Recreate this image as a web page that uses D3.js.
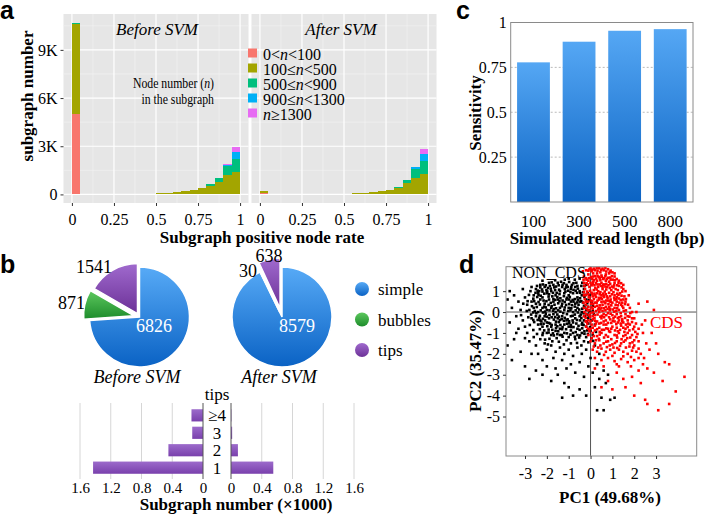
<!DOCTYPE html>
<html lang="en">
<head>
<meta charset="UTF-8" />
<title>Subgraph classification figure</title>
<script src="https://d3js.org/d3.v7.min.js"></script>
<style>
  body { margin: 0; background: #fff; }
  svg { display: block; font-family: "Liberation Serif", "Times New Roman", serif; }
  .plabel { font-family: "Liberation Sans", Arial, sans-serif; font-weight: bold; font-size: 25px; }
  .ttl { font-weight: bold; font-size: 17px; }
</style>
</head>
<body>
<svg width="708" height="514"></svg>
<script>
// ---------- data ----------
// panel a: histogram bins of positive node rate (bin start), counts in thousands
const binStarts = [0, 0.05, 0.1, 0.15, 0.2, 0.25, 0.3, 0.35, 0.4, 0.45,
                   0.5, 0.55, 0.6, 0.65, 0.7, 0.75, 0.8, 0.85, 0.9, 0.95];
const sizeKeys = ["n100", "n500", "n900", "n1300", "nBig"];
const sizeColors = ["#F8766D", "#A3A500", "#00BF7D", "#00B0F6", "#E76BF3"];

const beforeN100  = [5.0, 0.01, 0.01, 0.01, 0.01, 0.01, 0.01, 0.01, 0.01, 0.01, 0.01, 0.01, 0.02, 0.01, 0.01, 0.01, 0.01, 0.02, 0.02, 0.03];
const beforeN500  = [5.6, 0.01, 0.01, 0.01, 0.01, 0.01, 0.02, 0.02, 0.03, 0.04, 0.06, 0.09, 0.12, 0.18, 0.26, 0.37, 0.54, 0.78, 1.17, 1.37];
const beforeN900  = [0.08, 0, 0, 0, 0, 0, 0, 0, 0, 0, 0, 0, 0, 0.01, 0.02, 0.03, 0.07, 0.2, 0.58, 0.8];
const beforeN1300 = [0, 0, 0, 0, 0, 0, 0, 0, 0, 0, 0, 0, 0, 0, 0, 0, 0, 0.01, 0.06, 0.42];
const beforeNBig  = [0, 0, 0, 0, 0, 0, 0, 0, 0, 0, 0, 0, 0, 0, 0, 0, 0, 0, 0.04, 0.35];

const afterN100  = [0.1, 0, 0, 0, 0, 0, 0, 0, 0, 0, 0, 0.005, 0.005, 0.005, 0.005, 0.005, 0.005, 0.01, 0.01, 0.02];
const afterN500  = [0.12, 0, 0, 0, 0, 0, 0, 0, 0.01, 0.02, 0.04, 0.06, 0.09, 0.13, 0.19, 0.27, 0.41, 0.69, 1.03, 1.28];
const afterN900  = [0, 0, 0, 0, 0, 0, 0, 0, 0, 0, 0, 0, 0, 0.01, 0.01, 0.02, 0.04, 0.18, 0.56, 0.79];
const afterN1300 = [0, 0, 0, 0, 0, 0, 0, 0, 0, 0, 0, 0, 0, 0, 0, 0, 0, 0.01, 0.08, 0.42];
const afterNBig  = [0, 0, 0, 0, 0, 0, 0, 0, 0, 0, 0, 0, 0, 0, 0, 0, 0, 0, 0.05, 0.31];

// panel b: subgraph types
const typeNames = ["simple", "bubbles", "tips"];
const beforeTypes = [6826, 871, 1541];
const afterTypes = [8579, 30, 638];
// tips breakdown (x1000)
const tipCats = ["≥4", "3", "2", "1"];
const tipsBefore = [0.15, 0.14, 0.45, 1.43];
const tipsAfter = [0.005, 0.015, 0.09, 0.55];

// panel c: sensitivity by read length
const readLengths = ["100", "300", "500", "800"];
const sensitivity = [0.778, 0.893, 0.954, 0.963];

// panel d: PCA points [PC1, PC2]
const nonCdsPts = [
  [-2.5,1.1],[-2.3,1.3],[-2.1,1.2],[-1.9,1.4],[-1.7,1.3],[-1.5,1.4],[-1.3,1.2],[-1.1,1.3],[-0.9,1.1],[-0.7,1.2],[-0.5,1.0],[-0.3,1.1],
  [-2.6,0.8],[-2.4,0.9],[-2.2,0.7],[-2.0,0.9],[-1.8,1.0],[-1.6,0.8],[-1.4,1.0],[-1.2,0.9],[-1.0,0.8],[-0.8,0.9],[-0.6,0.7],[-0.4,0.8],[-0.2,0.6],
  [-2.7,0.5],[-2.5,0.4],[-2.3,0.6],[-2.1,0.4],[-1.9,0.6],[-1.7,0.5],[-1.5,0.6],[-1.3,0.4],[-1.1,0.6],[-0.9,0.5],[-0.7,0.4],[-0.5,0.5],[-0.3,0.3],
  [-2.8,0.1],[-2.6,0.2],[-2.4,0.0],[-2.2,0.2],[-2.0,0.1],[-1.8,0.2],[-1.6,0.0],[-1.4,0.2],[-1.2,0.1],[-1.0,0.2],[-0.8,0.0],[-0.6,0.2],[-0.4,0.0],[-0.2,0.1],
  [-2.7,-0.3],[-2.5,-0.2],[-2.3,-0.4],[-2.1,-0.2],[-1.9,-0.3],[-1.7,-0.1],[-1.5,-0.3],[-1.3,-0.2],[-1.1,-0.4],[-0.9,-0.2],[-0.7,-0.3],[-0.5,-0.2],[-0.3,-0.4],[-0.1,-0.3],
  [-2.4,-0.6],[-2.2,-0.7],[-2.0,-0.5],[-1.8,-0.7],[-1.6,-0.6],[-1.4,-0.8],[-1.2,-0.6],[-1.0,-0.7],[-0.8,-0.5],[-0.6,-0.8],[-0.4,-0.6],[-0.2,-0.7],
  [-2.0,-1.0],[-1.8,-1.1],[-1.6,-0.9],[-1.4,-1.1],[-1.2,-1.0],[-1.0,-1.2],[-0.8,-1.0],[-0.6,-1.1],[-0.4,-1.0],[-0.2,-1.2],[0.0,-0.9],
  [-2.35,1.0],[-1.95,1.15],[-1.62,1.05],[-1.18,1.1],[-0.85,1.3],[-0.42,1.25],[-2.15,0.55],[-1.75,0.75],[-1.38,0.66],[-0.95,0.72],[-0.55,0.35],
  [-0.15,0.42],[-2.55,0.05],[-2.05,-0.08],[-1.65,0.35],[-1.25,-0.05],[-0.85,0.33],[-0.45,-0.12],[-2.25,-0.45],[-1.85,-0.55],[-1.45,-0.48],
  [-1.05,-0.35],[-0.65,-0.55],[-0.25,-0.2],[-1.75,-0.85],[-1.3,-0.82],[-0.9,-0.88],[-0.5,-0.85],[-0.1,-0.55],[-2.9,0.35],[-3.0,0.7],
  [-2.75,1.0],[-2.45,1.25],[-1.35,1.45],[-0.65,1.4],[0.1,0.3],[0.05,-0.4],[0.15,-0.1],[-0.05,0.8],[-1.55,-1.25],[-1.1,-1.35],[-0.7,-1.3],
  [-0.3,-1.4],[0.1,-1.1],
  [-2.42,1.02],[-2.22,1.08],[-2.02,1.04],[-1.82,1.12],[-1.44,1.07],[-1.02,1.02],[-0.78,1.06],[-0.58,1.12],[-0.34,0.95],[-0.12,0.9],
  [-2.62,0.64],[-2.44,0.72],[-2.28,0.78],[-1.92,0.74],[-1.52,0.72],[-1.22,0.76],[-1.08,0.68],[-0.72,0.62],[-0.48,0.66],[-0.28,0.72],[-0.08,0.58],
  [-2.68,0.28],[-2.46,0.24],[-2.32,0.36],[-2.12,0.26],[-1.92,0.34],[-1.78,0.28],[-1.48,0.42],[-1.32,0.28],[-1.12,0.34],[-0.98,0.38],[-0.72,0.26],
  [-0.62,0.46],[-0.38,0.16],
  [-2.72,-0.12],[-2.48,-0.06],[-2.32,-0.18],[-2.18,-0.02],[-1.88,-0.14],[-1.72,0.06],[-1.52,-0.12],[-1.38,0.02],[-1.08,-0.1],[-0.92,0.08],
  [-0.72,-0.12],[-0.58,-0.02],[-0.32,-0.06],[-0.12,-0.12],
  [-2.58,-0.48],[-2.42,-0.38],[-2.08,-0.4],[-1.92,-0.52],[-1.68,-0.36],[-1.58,-0.46],[-1.22,-0.42],[-0.98,-0.54],[-0.82,-0.4],[-0.48,-0.4],
  [-0.38,-0.52],[-0.18,-0.45],
  [-2.32,-0.82],[-2.12,-0.88],[-1.92,-0.84],[-1.58,-0.76],[-1.48,-0.92],[-1.12,-0.82],[-0.78,-0.72],[-0.68,-0.96],[-0.38,-0.78],[-0.28,-0.92],
  [-0.02,-0.72],
  [-2.18,1.32],[-1.78,1.42],[-1.58,1.22],[-1.22,1.38],[-0.98,1.44],[-0.78,1.38],[-0.38,1.4],
  [-1.88,-1.28],[-1.68,-1.12],[-1.28,-1.18],[-0.92,-1.08],[-0.52,-1.22],[-0.12,-1.05],[-2.2,-1.1],
  [-1.9,0.85],[-1.55,0.92],[-1.28,0.55],[-0.82,0.58],[-2.05,0.22],[-1.58,0.18],[-1.02,0.05],[-0.68,0.08],[-1.78,-0.25],[-1.32,-0.34],
  [-0.82,-0.18],[-1.98,-0.68],[-1.38,-0.62],[-0.9,-0.62],[-1.12,1.18],[-0.62,0.92],[-1.7,0.62],[-2.2,0.98],[-0.42,0.52],[-1.45,-0.22],
  [-2.52,0.92],[-2.38,0.82],[-2.12,0.88],[-1.98,0.98],[-1.72,0.92],[-1.42,0.86],[-1.15,0.98],[-0.92,0.95],[-0.68,1.02],[-0.48,0.92],[-0.22,0.82],
  [-2.58,0.52],[-2.38,0.48],[-2.02,0.52],[-1.82,0.44],[-1.62,0.58],[-1.42,0.52],[-1.18,0.48],[-0.98,0.6],[-0.78,0.5],[-0.58,0.58],[-0.35,0.45],
  [-0.12,0.25],[-2.62,-0.02],[-2.28,0.08],[-2.08,0.02],[-1.88,0.08],[-1.68,0.14],[-1.48,0.08],[-1.18,0.22],[-0.88,0.18],[-0.52,0.12],[-0.28,0.22],
  [-0.05,0.02],[-2.62,-0.38],[-2.35,-0.28],[-2.18,-0.32],[-2.0,-0.22],[-1.62,-0.24],[-1.4,-0.38],[-1.18,-0.28],[-0.98,-0.44],[-0.62,-0.38],
  [-0.42,-0.28],[-0.08,-0.18],[-2.28,-0.58],[-2.15,-0.56],[-1.78,-0.62],[-1.52,-0.68],[-1.28,-0.72],[-1.08,-0.56],[-0.88,-0.72],[-0.55,-0.66],
  [-0.32,-0.62],[-0.15,-0.88],[-2.18,-1.0],[-1.92,-0.98],[-1.72,-1.02],[-1.52,-1.06],[-1.32,-1.1],[-1.08,-1.02],[-0.72,-1.18],[-0.48,-1.12],
  [-0.28,-1.04],[0.05,-1.25],[-2.3,1.18],[-2.05,1.28],[-1.86,1.25],[-1.66,1.18],[-1.46,1.28],[-1.28,1.3],[-1.04,1.2],[-0.88,1.2],[-0.6,1.25],
  [-0.28,1.25],[-2.82,0.82],[-2.88,0.52],[-2.92,0.05],[-2.85,-0.25],[-2.78,-0.62],[-2.62,-0.86],[-2.45,-1.05],[-3.08,0.4],[-3.18,-0.15],
  [-3.0,-1.25],[-2.08,-1.32],[-1.75,-1.4],[-1.45,-1.42],[-1.22,-1.55],[-0.9,-1.5],[-0.62,-1.48],[-0.42,-1.6],[-0.1,-1.45],[0.12,-1.38],
  [-1.95,-1.55],[-1.62,1.52],[-1.18,1.55],[-0.72,1.55],[-0.2,1.3],[0.05,0.5],[0.1,0.05],[0.2,-0.6],[0.25,-0.95],
  [-3.7,1.0],[-3.8,0.6],[-3.5,0.8],[-3.3,0.5],[-3.6,0.2],[-3.2,0.1],[-3.4,-0.2],[-3.1,-0.4],[-3.7,-0.5],[-3.3,-0.8],[-3.0,-0.7],[-2.9,-1.0],
  [-3.5,-1.3],[-3.8,-1.6],[-3.6,-2.3],[-3.2,-1.9],[-2.8,-1.4],[-2.6,-1.2],[-2.5,-1.6],[-2.3,-1.3],[-2.1,-1.5],[-2.7,-2.0],[-2.4,-2.0],
  [-2.0,-1.8],[-1.8,-1.6],[-1.6,-1.9],[-1.4,-1.7],[-1.2,-2.0],[-1.0,-1.8],[-0.8,-2.1],[-0.6,-1.7],[-0.4,-2.0],[-0.2,-1.8],[0.0,-2.2],
  [0.2,-1.6],[-1.3,-2.3],[-0.9,-2.5],[-0.5,-2.4],[-0.1,-2.6],[0.3,-2.5],[-1.7,-2.2],[-2.2,-2.3],[-1.1,-2.7],[-0.7,-2.9],[-0.3,-3.1],
  [0.1,-2.9],[0.4,-3.2],
  [-2.8,-3.2],[-2.5,-2.8],[-2.2,-3.0],[-1.8,-3.3],[-1.5,-3.0],[-1.2,-3.4],[-1.0,-3.6],[-1.3,-4.1],[-0.8,-4.0],[-0.5,-3.7],[-0.2,-4.0],
  [0.2,-3.6],[0.5,-4.1],[0.3,-4.7],[0.6,-4.7],[0.9,-4.2],[1.1,-4.1],[0.7,-3.4],[-3.0,-2.6],[-2.0,-2.6],[-1.6,-2.7],[-3.4,-1.0],
  [-2.7,1.2],[-2.2,1.5],[-1.0,1.6],[-0.5,1.6],[-3.1,1.1],[0.4,-2.0],[0.6,-2.8],[0.8,-3.0]
];
const cdsPts = [
  [-0.2,2.0],[0.0,2.1],[0.2,2.0],[0.4,2.1],[0.6,2.0],[0.8,2.05],[1.0,1.9],[-0.3,1.7],[-0.1,1.8],[0.1,1.7],[0.3,1.85],[0.5,1.75],[0.7,1.8],
  [0.9,1.65],[1.1,1.7],[1.3,1.5],[-0.3,1.4],[-0.1,1.5],[0.1,1.35],[0.3,1.5],[0.5,1.4],[0.7,1.5],[0.9,1.35],[1.1,1.4],[1.3,1.25],[1.5,1.1],
  [-0.25,1.1],[-0.05,1.2],[0.15,1.05],[0.35,1.2],[0.55,1.1],[0.75,1.2],[0.95,1.05],[1.15,1.1],[1.35,0.9],
  [-0.3,0.8],[-0.1,0.85],[0.1,0.75],[0.3,0.9],[0.5,0.8],[0.7,0.85],[0.9,0.75],[1.1,0.8],[1.3,0.65],[1.5,0.6],
  [-0.2,0.5],[0.0,0.55],[0.2,0.45],[0.4,0.6],[0.6,0.5],[0.8,0.55],[1.0,0.45],[1.2,0.5],[1.4,0.35],
  [-0.3,0.2],[-0.1,0.25],[0.1,0.15],[0.3,0.3],[0.5,0.2],[0.7,0.25],[0.9,0.15],[1.1,0.2],[1.3,0.1],[1.5,0.2],
  [-0.2,-0.1],[0.0,-0.05],[0.2,-0.15],[0.4,0.0],[0.6,-0.1],[0.8,-0.05],[1.0,-0.15],[1.2,-0.1],[1.4,-0.2],[1.6,-0.1],
  [-0.1,-0.4],[0.1,-0.35],[0.3,-0.45],[0.5,-0.3],[0.7,-0.4],[0.9,-0.35],[1.1,-0.45],[1.3,-0.4],[1.5,-0.5],[1.7,-0.4],
  [0.05,1.95],[0.45,1.9],[0.85,1.85],[0.25,1.6],[0.62,1.62],[1.02,1.55],[-0.18,1.55],[0.42,1.32],[0.82,1.28],[0.22,1.15],
  [0.65,0.98],[1.05,0.95],[-0.15,0.98],[0.38,0.68],[0.78,0.68],[1.18,0.62],[0.12,0.38],[0.55,0.35],[0.95,0.32],[1.45,0.45],
  [0.25,0.05],[0.68,0.08],[1.08,0.02],[-0.05,0.1],[0.45,-0.22],[0.85,-0.25],[1.25,-0.28],[0.35,1.0],[0.72,1.35],[0.15,0.62],
  [-0.1,1.98],[0.15,2.08],[0.32,1.98],[0.55,2.08],[0.72,1.94],[0.92,1.98],
  [-0.22,1.62],[0.02,1.66],[0.16,1.52],[0.38,1.68],[0.58,1.58],[0.8,1.64],[0.98,1.72],[1.2,1.58],[1.4,1.38],
  [-0.28,1.25],[-0.12,1.32],[0.05,1.28],[0.25,1.38],[0.48,1.25],[0.62,1.32],[0.98,1.22],[1.22,1.28],[1.42,1.18],
  [-0.3,0.95],[-0.02,1.02],[0.18,0.88],[0.45,0.95],[0.58,0.88],[0.85,0.92],[1.22,0.88],[1.42,0.78],
  [-0.26,0.62],[-0.05,0.7],[0.25,0.72],[0.48,0.68],[0.62,0.72],[0.92,0.6],[1.08,0.68],[1.28,0.82],[1.55,0.75],
  [-0.22,0.35],[0.02,0.4],[0.28,0.45],[0.42,0.32],[0.68,0.42],[0.82,0.38],[1.15,0.35],[1.32,0.45],[1.58,0.38],
  [-0.28,0.0],[-0.12,0.08],[0.12,-0.02],[0.35,0.12],[0.55,0.05],[0.88,0.08],[1.18,0.05],[1.38,-0.05],[1.62,0.08],
  [-0.22,-0.28],[-0.02,-0.22],[0.18,-0.3],[0.62,-0.25],[1.05,-0.3],[1.45,-0.35],[1.78,-0.22],
  [-0.15,-0.55],[0.05,-0.6],[0.25,-0.55],[0.48,-0.52],[0.72,-0.6],[0.95,-0.52],[1.18,-0.58],[1.38,-0.55],[1.62,-0.6],[1.9,-0.48],
  [-0.05,-0.92],[0.2,-0.88],[0.42,-0.95],[0.62,-0.85],[0.85,-0.92],[1.12,-0.88],[1.35,-0.85],[1.55,-0.95],[1.78,-0.88],[2.05,-0.95],
  [0.05,-1.25],[0.38,-1.28],[0.62,-1.22],[0.95,-1.3],[1.22,-1.22],[1.42,-1.3],[1.68,-1.25],[2.0,-1.35],
  [0.15,-1.65],[0.45,-1.6],[0.75,-1.68],[1.05,-1.7],[1.35,-1.62],[1.62,-1.7],[1.95,-1.7],[2.2,-1.75],
  [0.32,1.72],[0.68,1.72],[0.12,1.45],[0.85,1.45],[0.45,1.52],[0.28,1.08],[0.72,1.08],[0.52,0.62],[0.05,0.92],[0.92,0.48],
  [0.38,0.2],[0.78,0.15],[0.12,1.85],[0.58,1.3],[1.08,1.28],
  [-0.35,1.95],[-0.05,2.05],[0.08,2.02],[0.28,2.1],[0.48,2.02],[0.68,2.1],[0.88,1.92],[1.1,1.85],
  [-0.32,1.55],[-0.08,1.62],[0.08,1.58],[0.2,1.72],[0.42,1.62],[0.52,1.68],[0.75,1.58],[0.92,1.55],[1.12,1.52],[1.28,1.4],
  [-0.18,1.38],[0.0,1.4],[0.18,1.28],[0.32,1.32],[0.55,1.2],[0.68,1.22],[0.88,1.15],[1.05,1.18],[1.25,1.05],[1.45,0.98],
  [-0.22,0.82],[-0.08,0.72],[0.08,0.85],[0.22,0.8],[0.42,0.85],[0.6,0.78],[0.75,0.75],[0.98,0.85],[1.2,0.72],[1.38,0.58],[1.62,0.62],
  [-0.32,0.45],[-0.12,0.5],[0.08,0.52],[0.32,0.55],[0.5,0.48],[0.72,0.55],[0.88,0.52],[1.1,0.58],[1.25,0.32],[1.45,0.28],[1.72,0.35],
  [-0.18,0.15],[0.05,0.22],[0.2,0.25],[0.45,0.12],[0.62,0.18],[0.85,0.25],[1.02,0.12],[1.22,0.18],[1.52,0.05],[1.82,-0.05],
  [-0.3,-0.2],[-0.08,-0.15],[0.1,-0.2],[0.32,-0.12],[0.52,-0.18],[0.72,-0.15],[0.92,-0.08],[1.12,-0.22],[1.32,-0.25],[1.58,-0.28],[1.9,-0.3],
  [-0.22,-0.45],[0.0,-0.45],[0.2,-0.42],[0.4,-0.55],[0.6,-0.45],[0.8,-0.52],[1.02,-0.42],[1.25,-0.5],[1.45,-0.42],[1.72,-0.55],[2.08,-0.55],
  [-0.12,-0.8],[0.1,-0.75],[0.3,-0.82],[0.52,-0.85],[0.72,-0.78],[0.95,-0.8],[1.25,-0.92],[1.5,-0.75],[1.7,-0.72],[1.95,-0.82],
  [0.15,-1.15],[0.42,-1.08],[0.8,-1.18],[1.2,-1.12],[1.6,-1.1],[1.82,-1.22],[2.15,-1.05],[0.25,-1.35],[0.72,-1.42],[1.12,-1.48],
  [1.52,-1.42],[1.92,-1.45],[0.35,-1.7],[0.88,-1.6],[1.22,-1.72],[1.78,-1.65],[2.1,-1.9],[0.62,-2.05],[1.0,-2.1],[1.5,-2.12],
  [1.85,-2.15],[2.2,-2.2],[1.2,-2.5],[1.85,-2.6],[2.45,-2.2],[2.55,-1.5],[2.35,-0.6],[2.1,0.0],
  [-0.2,-0.7],[0.0,-0.8],[0.2,-0.65],[0.4,-0.75],[0.6,-0.6],[0.8,-0.8],[1.0,-0.7],[1.2,-0.75],[1.4,-0.65],[1.6,-0.8],[1.8,-0.6],[2.0,-0.7],
  [-0.1,-1.1],[0.1,-1.0],[0.3,-1.15],[0.5,-1.0],[0.7,-1.1],[0.9,-0.95],[1.1,-1.1],[1.3,-1.0],[1.5,-1.15],[1.7,-1.0],[1.9,-1.1],[2.1,-1.2],
  [0.0,-1.4],[0.2,-1.5],[0.4,-1.35],[0.6,-1.5],[0.8,-1.4],[1.0,-1.55],[1.2,-1.4],[1.4,-1.5],[1.6,-1.35],[1.8,-1.5],[2.0,-1.6],[2.2,-1.4],
  [0.1,-1.8],[0.3,-1.9],[0.5,-1.75],[0.7,-1.9],[0.9,-1.8],[1.1,-1.95],[1.3,-1.8],[1.5,-1.9],[1.7,-2.0],[1.9,-1.85],[2.3,-2.0],
  [0.2,-2.2],[0.5,-2.3],[0.8,-2.2],[1.1,-2.35],[1.4,-2.25],[1.7,-2.4],[2.0,-2.3],[2.4,-2.5],
  [1.6,0.5],[1.8,0.2],[1.7,-0.2],[2.0,-0.3],[1.9,0.0],[2.2,-0.8],[2.4,-1.0],[1.75,0.8],[1.6,1.0],[1.5,1.3],
  [2.9,0.1],[2.6,0.5],[2.2,0.4],[2.5,-0.4],[2.8,-1.0],[3.0,-1.5],[2.7,-1.8],[3.1,-2.0],[3.4,-2.4],[3.6,-2.5],[2.6,-2.7],[2.9,-2.9],
  [2.2,-2.8],[1.9,-3.1],[1.5,-3.2],[1.2,-2.9],[0.8,-3.3],[0.5,-3.6],[1.0,-3.7],[1.6,-3.6],[2.3,-3.4],[2.5,-4.2],[2.6,-4.4],[3.1,-4.7],
  [3.6,-4.4],[3.9,-3.8],[4.3,-3.1],[3.3,-3.3],[2.0,-4.0],[0.2,-2.7],[0.6,-2.6],[1.3,-2.6]
];

// ---------- setup ----------
const serif = '"Liberation Serif", "Times New Roman", serif';
const svg = d3.select("svg");
svg.append("rect").attr("width", 708).attr("height", 514).attr("fill", "#fff");
const defs = svg.append("defs");

function vgrad(id, top, bottom) {
  const g = defs.append("linearGradient").attr("id", id)
    .attr("x1", 0).attr("y1", 0).attr("x2", 0).attr("y2", 1);
  g.append("stop").attr("offset", "0%").attr("stop-color", top);
  g.append("stop").attr("offset", "100%").attr("stop-color", bottom);
}
vgrad("gBlue", "#57AAF6", "#0A62C4");
vgrad("gGreen", "#5DC85E", "#1D8C2B");
vgrad("gPurple", "#A06ACE", "#6C3197");
vgrad("gTipBar", "#9C6BCB", "#7940AC");
vgrad("gSens", "#55A7F4", "#0B63C3");

function styleAxis(g, size) {
  g.attr("font-family", serif).attr("font-size", size);
  g.select(".domain").remove();
  g.selectAll(".tick line").attr("stroke", "#333");
  g.selectAll(".tick text").attr("fill", "#000").attr("font-family", serif).attr("font-size", size);
}

function addText(x, y, str, opts = {}, parent = svg) {
  return parent.append("text").attr("x", x).attr("y", y)
    .attr("text-anchor", opts.anchor || "start")
    .attr("font-family", serif)
    .attr("font-size", opts.size || 16)
    .attr("font-style", opts.italic ? "italic" : null)
    .attr("font-weight", opts.bold ? "bold" : null)
    .attr("fill", opts.fill || "#000")
    .text(str);
}

// panel letters
svg.append("text").attr("class", "plabel").attr("x", 0).attr("y", 19).text("a");
svg.append("text").attr("class", "plabel").attr("x", 0).attr("y", 273).text("b");
svg.append("text").attr("class", "plabel").attr("x", 456).attr("y", 19).text("c");
svg.append("text").attr("class", "plabel").attr("x", 459).attr("y", 273).text("d");

// ---------- panel a ----------
function buildRows(arrs) {
  return binStarts.map((b, i) => {
    const r = { bin: b };
    sizeKeys.forEach((k, j) => { r[k] = arrs[j][i]; });
    return r;
  });
}
const facets = [
  { title: "Before SVM", rows: buildRows([beforeN100, beforeN500, beforeN900, beforeN1300, beforeNBig]) },
  { title: "After SVM", rows: buildRows([afterN100, afterN500, afterN900, afterN1300, afterNBig]) }
];
const aLeft = 63.5, aW = 185, aGap = 3, aTop = 14, aBottom = 203;
const yA = d3.scaleLinear().domain([-0.535, 11.235]).range([aBottom, aTop]);
const stack = d3.stack().keys(sizeKeys);

facets.forEach((f, fi) => {
  const left = aLeft + fi * (aW + aGap);
  const xA = d3.scaleLinear().domain([-0.05, 1.05]).range([left, left + aW]);
  const g = svg.append("g");
  g.append("rect").attr("x", left).attr("y", aTop).attr("width", aW).attr("height", aBottom - aTop).attr("fill", "#E6E6E6");
  // minor grid
  [0.125, 0.375, 0.625, 0.875].forEach(v => g.append("line").attr("x1", xA(v)).attr("x2", xA(v)).attr("y1", aTop).attr("y2", aBottom).attr("stroke", "#F4F4F4").attr("stroke-width", 0.6));
  [1.5, 4.5, 7.5, 10.5].forEach(v => g.append("line").attr("x1", left).attr("x2", left + aW).attr("y1", yA(v)).attr("y2", yA(v)).attr("stroke", "#F4F4F4").attr("stroke-width", 0.6));
  // major grid
  [0, 0.25, 0.5, 0.75, 1].forEach(v => g.append("line").attr("x1", xA(v)).attr("x2", xA(v)).attr("y1", aTop).attr("y2", aBottom).attr("stroke", "#fff").attr("stroke-width", 1.2));
  [0, 3, 6, 9].forEach(v => g.append("line").attr("x1", left).attr("x2", left + aW).attr("y1", yA(v)).attr("y2", yA(v)).attr("stroke", "#fff").attr("stroke-width", 1.2));

  const series = stack(f.rows);
  g.selectAll(".layer").data(series).enter().append("g")
    .attr("fill", (d, i) => sizeColors[i])
    .selectAll("rect").data(d => d).enter().append("rect")
    .attr("x", d => xA(d.data.bin))
    .attr("width", xA(0.05) - xA(0))
    .attr("y", d => yA(d[1]))
    .attr("height", d => Math.max(0, yA(d[0]) - yA(d[1])))
    .attr("shape-rendering", "crispEdges");

  const ax = svg.append("g").attr("transform", `translate(0,${aBottom})`)
    .call(d3.axisBottom(xA).tickValues([0, 0.25, 0.5, 0.75, 1]).tickFormat(d3.format("~g")).tickSize(3).tickPadding(8));
  styleAxis(ax, 16);

  addText(fi === 0 ? 157 : 341, 35, f.title, { anchor: "middle", size: 17, italic: true });
});

const ayAxis = svg.append("g").attr("transform", `translate(${aLeft},0)`)
  .call(d3.axisLeft(yA).tickValues([0, 3, 6, 9]).tickFormat(d => d ? d + "K" : "0").tickSize(3).tickPadding(3));
styleAxis(ayAxis, 16);

svg.append("text").attr("class", "ttl").attr("transform", "translate(33,96) rotate(-90)")
  .attr("text-anchor", "middle").text("subgraph number");
addText(262, 243, "Subgraph positive node rate", { anchor: "middle", size: 17, bold: true });

// legend of panel a (title is set in a narrow face in the original)
const legTitle = svg.append("g").attr("transform", "translate(214,0) scale(0.76,1)");
const lt1 = addText(0, 88, "Node number (", { anchor: "end", size: 15.5 }, legTitle);
lt1.append("tspan").attr("font-style", "italic").text("n");
lt1.append("tspan").text(")");
addText(0, 104, "in the subgraph", { anchor: "end", size: 15.5 }, legTitle);
const legendParts = [
  [["0<", 0], ["n", 1], ["<100", 0]],
  [["100≤", 0], ["n", 1], ["<500", 0]],
  [["500≤", 0], ["n", 1], ["<900", 0]],
  [["900≤", 0], ["n", 1], ["<1300", 0]],
  [["n", 1], ["≥1300", 0]]
];
legendParts.forEach((parts, i) => {
  const cy = 53 + i * 15;
  svg.append("rect").attr("x", 248).attr("y", cy - 4.5).attr("width", 9).attr("height", 9).attr("fill", sizeColors[i]);
  const t = addText(263, cy + 7, "", { size: 16 });
  parts.forEach(p => t.append("tspan").attr("font-style", p[1] ? "italic" : null).text(p[0]));
});

// ---------- panel b: pies ----------
const pie = d3.pie().sort(null).startAngle(0).endAngle(2 * Math.PI);
const arcB = d3.arc().innerRadius(0).outerRadius(50);
const fills = ["url(#gBlue)", "url(#gGreen)", "url(#gPurple)"];
const pies = [
  { cx: 139.5, cy: 317, vals: beforeTypes, explode: [0, 6, 4] },
  { cx: 282, cy: 317, vals: afterTypes, explode: [0, 5, 9] }
];
pies.forEach(p => {
  const g = svg.append("g").attr("transform", `translate(${p.cx},${p.cy})`);
  g.selectAll("path").data(pie(p.vals)).enter().append("path")
    .attr("d", arcB)
    .attr("fill", (d, i) => fills[i])
    .attr("stroke", "#fff").attr("stroke-width", 1.5)
    .attr("transform", (d, i) => {
      const a = (d.startAngle + d.endAngle) / 2;
      const e = p.explode[i];
      return `translate(${Math.sin(a) * e},${-Math.cos(a) * e})`;
    });
});
addText(154, 332, beforeTypes[0], { anchor: "middle", size: 18, fill: "#fff" });
addText(85, 309, beforeTypes[1], { anchor: "end", size: 18 });
addText(76, 273, beforeTypes[2], { size: 18 });
addText(297, 332, afterTypes[0], { anchor: "middle", size: 18, fill: "#fff" });
addText(257, 277, afterTypes[1], { anchor: "end", size: 18 });
addText(269, 262, afterTypes[2], { anchor: "middle", size: 18 });
addText(137, 383, "Before SVM", { anchor: "middle", size: 18, italic: true });
addText(279, 383, "After SVM", { anchor: "middle", size: 18, italic: true });

typeNames.forEach((n, i) => {
  const cy = 289 + i * 30.5;
  svg.append("circle").attr("cx", 362).attr("cy", cy).attr("r", 7).attr("fill", fills[i]);
  addText(378, cy + 6, n, { size: 17 });
});

// ---------- panel b: tips butterfly ----------
const xTL = d3.scaleLinear().domain([0, 1.6]).range([203, 80]);
const xTR = d3.scaleLinear().domain([0, 1.6]).range([231, 354]);
const yT = d3.scaleBand().domain(tipCats).range([404, 479]).padding(0.3);
const tg = svg.append("g");
[0.4, 0.8, 1.2, 1.6].forEach(v => {
  tg.append("line").attr("x1", xTL(v)).attr("x2", xTL(v)).attr("y1", 403).attr("y2", 479).attr("stroke", "#D6D6D6");
  tg.append("line").attr("x1", xTR(v)).attr("x2", xTR(v)).attr("y1", 403).attr("y2", 479).attr("stroke", "#D6D6D6");
});
tg.selectAll(".bl").data(tipCats).enter().append("rect")
  .attr("x", (d, i) => xTL(tipsBefore[i])).attr("y", d => yT(d))
  .attr("width", (d, i) => xTL(0) - xTL(tipsBefore[i])).attr("height", yT.bandwidth())
  .attr("fill", "url(#gTipBar)");
tg.selectAll(".br").data(tipCats).enter().append("rect")
  .attr("x", xTR(0)).attr("y", d => yT(d))
  .attr("width", (d, i) => xTR(tipsAfter[i]) - xTR(0)).attr("height", yT.bandwidth())
  .attr("fill", "url(#gTipBar)");
[203, 231].forEach(x => tg.append("line").attr("x1", x).attr("x2", x).attr("y1", 403).attr("y2", 479).attr("stroke", "#555"));
tipCats.forEach(c => addText(217, yT(c) + yT.bandwidth() / 2 + 6, c, { anchor: "middle", size: 17 }));
addText(217, 400, "tips", { anchor: "middle", size: 17 });
const tAxL = svg.append("g").attr("transform", "translate(0,479)")
  .call(d3.axisBottom(xTL).tickValues([0, 0.4, 0.8, 1.2, 1.6]).tickFormat(d3.format("~g")).tickSize(0).tickPadding(3));
styleAxis(tAxL, 15);
const tAxR = svg.append("g").attr("transform", "translate(0,479)")
  .call(d3.axisBottom(xTR).tickValues([0, 0.4, 0.8, 1.2, 1.6]).tickFormat(d3.format("~g")).tickSize(0).tickPadding(3));
styleAxis(tAxR, 15);
addText(236, 510, "Subgraph number (×1000)", { anchor: "middle", size: 17, bold: true });

// ---------- panel c ----------
const xC = d3.scaleBand().domain(readLengths).range([510.7, 693]).paddingInner(0.28).paddingOuter(0.14);
const yC = d3.scaleLinear().domain([0, 1]).range([202, 22.5]);
const cg = svg.append("g");
[0.25, 0.5, 0.75].forEach(v => cg.append("line").attr("x1", 510.7).attr("x2", 693).attr("y1", yC(v)).attr("y2", yC(v))
  .attr("stroke", "#AAA").attr("stroke-dasharray", "2,2").attr("stroke-width", 0.8));
cg.selectAll(".bar").data(readLengths).enter().append("rect")
  .attr("x", d => xC(d)).attr("width", xC.bandwidth())
  .attr("y", (d, i) => yC(sensitivity[i])).attr("height", (d, i) => yC(0) - yC(sensitivity[i]))
  .attr("fill", "url(#gSens)");
cg.append("rect").attr("x", 510.7).attr("y", 22.5).attr("width", 693 - 510.7).attr("height", 202 - 22.5)
  .attr("fill", "none").attr("stroke", "#8A8A8A");
const cyAx = svg.append("g").attr("transform", "translate(510.7,0)")
  .call(d3.axisLeft(yC).tickValues([0.25, 0.5, 0.75, 1]).tickFormat(d3.format("~g")).tickSize(0).tickPadding(4));
styleAxis(cyAx, 16);
const cxAx = svg.append("g").attr("transform", "translate(0,202)")
  .call(d3.axisBottom(xC).tickSize(0).tickPadding(13));
styleAxis(cxAx, 17);
svg.append("text").attr("class", "ttl").attr("transform", "translate(481,113) rotate(-90)")
  .attr("text-anchor", "middle").text("Sensitivity");
addText(607, 244, "Simulated read length (bp)", { anchor: "middle", size: 17, bold: true });

// ---------- panel d ----------
const xD = d3.scaleLinear().domain([-3.87, 4.86]).range([506, 696.7]);
const yD = d3.scaleLinear().domain([-6.89, 2.17]).range([456, 266.7]);
const dg = svg.append("g");
dg.append("line").attr("x1", xD(0)).attr("x2", xD(0)).attr("y1", 266.7).attr("y2", 456).attr("stroke", "#555");
dg.append("line").attr("x1", 506).attr("x2", 696.7).attr("y1", yD(0)).attr("y2", yD(0)).attr("stroke", "#555");
const ps = 2.6;
dg.selectAll(".nc").data(nonCdsPts).enter().append("rect")
  .attr("x", d => xD(d[0]) - ps / 2).attr("y", d => yD(d[1]) - ps / 2).attr("width", ps).attr("height", ps).attr("fill", "#000");
dg.selectAll(".cd").data(cdsPts).enter().append("rect")
  .attr("x", d => xD(d[0]) - ps / 2).attr("y", d => yD(d[1]) - ps / 2).attr("width", ps).attr("height", ps).attr("fill", "#F00");
dg.append("rect").attr("x", 506).attr("y", 266.7).attr("width", 696.7 - 506).attr("height", 456 - 266.7)
  .attr("fill", "none").attr("stroke", "#8A8A8A");
const dxAx = svg.append("g").attr("transform", "translate(0,456)")
  .call(d3.axisBottom(xD).tickValues([-3, -2, -1, 0, 1, 2, 3]).tickFormat(d => d < 0 ? "-" + (-d) : d).tickSize(3).tickPadding(9));
styleAxis(dxAx, 16);
const dyAx = svg.append("g").attr("transform", "translate(506,0)")
  .call(d3.axisLeft(yD).tickValues([-5, -4, -3, -2, -1, 0, 1]).tickFormat(d => d < 0 ? "-" + (-d) : d).tickSize(3).tickPadding(3));
styleAxis(dyAx, 16);
addText(512, 278, "NON_CDS", { size: 16 });
addText(650, 328, "CDS", { size: 17, fill: "#F00" });
addText(610, 503, "PC1 (49.68%)", { anchor: "middle", size: 17, bold: true });
svg.append("text").attr("class", "ttl").attr("transform", "translate(481,361) rotate(-90)")
  .attr("text-anchor", "middle").text("PC2 (35.47%)");
</script>
</body>
</html>
